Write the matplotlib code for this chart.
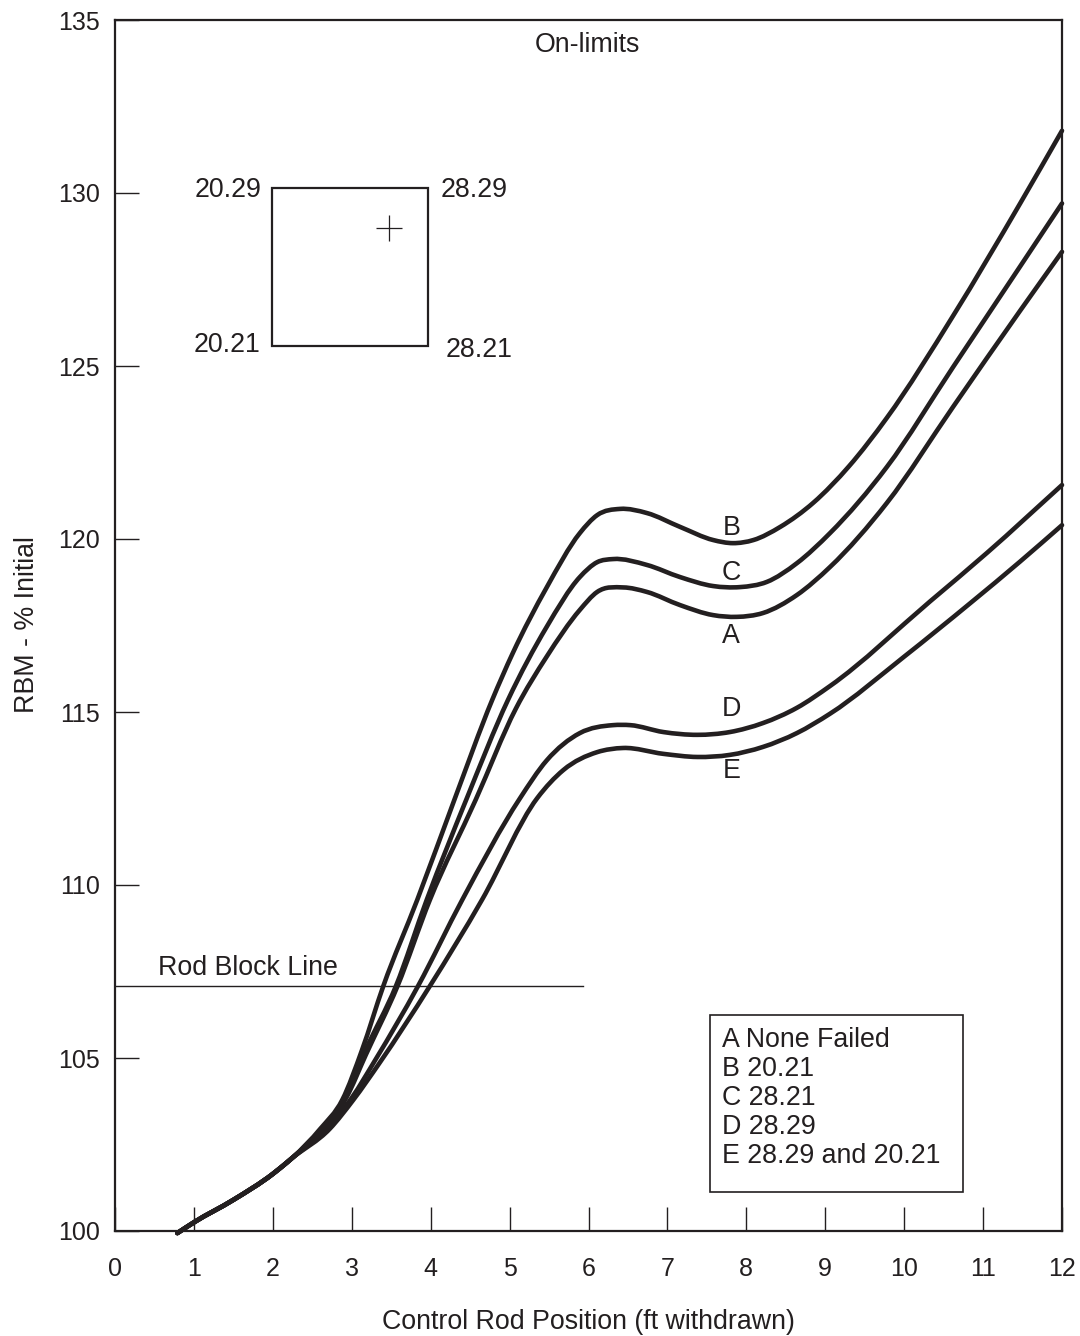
import matplotlib
matplotlib.use("Agg")
import matplotlib.pyplot as plt
from matplotlib.patches import Rectangle, PathPatch
from matplotlib.path import Path

plt.rcParams['font.family'] = ['Liberation Sans', 'DejaVu Sans']

# ---- data ----
base_x = [0.79, 1.0, 1.5, 2.0, 2.25]
base_y = [99.94, 100.25, 100.9, 101.65, 102.12]

B_x = [2.6, 2.88, 3.13, 3.40, 3.83, 4.30, 4.78, 5.04, 5.47, 5.89, 6.11, 6.40, 6.74, 7.16,
       7.58, 7.83, 8.09, 8.43, 8.85, 9.3, 9.78, 10.62, 11.47, 12.0]
B_y = [102.95, 103.79, 105.23, 107.08, 109.57, 112.46, 115.35, 116.7, 118.6, 120.17, 120.69,
       120.87, 120.75, 120.35, 119.97, 119.88, 119.97, 120.35, 121.05, 122.1, 123.5,
       126.45, 129.7, 131.8]

C_x = [2.63, 2.92, 3.17, 3.56, 3.95, 4.45, 4.98, 5.47, 5.89, 6.11, 6.31, 6.74, 7.16, 7.58,
       7.92, 8.26, 8.64, 9.06, 9.78, 10.62, 11.47, 12.0]
C_y = [102.95, 103.85, 105.2, 107.08, 109.57, 112.46, 115.35, 117.46, 118.9, 119.33, 119.42,
       119.25, 118.9, 118.64, 118.61, 118.76, 119.3, 120.17, 122.08, 124.97, 127.88, 129.7]

A_x = [2.64, 2.93, 3.18, 3.58, 3.99, 4.57, 5.08, 5.47, 5.89, 6.11, 6.44, 6.74, 7.16, 7.58,
       7.88, 8.21, 8.64, 9.06, 9.78, 10.62, 11.47, 12.0]
A_y = [102.95, 103.85, 105.1, 107.08, 109.57, 112.46, 115.1, 116.6, 117.95, 118.47, 118.6,
       118.47, 118.09, 117.8, 117.75, 117.86, 118.38, 119.19, 121.04, 123.82, 126.6, 128.3]

D_x = [2.68, 3.00, 3.30, 3.84, 4.40, 5.13, 5.47, 5.89, 6.31, 6.53, 6.95, 7.38, 7.79, 8.21,
       8.64, 9.06, 10.33, 11.05, 12.0]
D_y = [102.95, 103.85, 104.95, 107.08, 109.57, 112.5, 113.6, 114.39, 114.62, 114.62, 114.42,
       114.34, 114.42, 114.68, 115.12, 115.75, 118.2, 119.6, 121.56]

E_x = [2.72, 3.02, 3.35, 3.99, 4.65, 5.35, 5.68, 6.11, 6.44, 6.95, 7.38, 7.79, 8.21, 8.64,
       9.06, 10.0, 10.84, 11.47, 12.0]
E_y = [102.95, 103.79, 104.85, 107.08, 109.57, 112.51, 113.32, 113.84, 113.96, 113.79, 113.7,
       113.76, 113.99, 114.39, 114.95, 116.6, 118.15, 119.35, 120.4]

curve_names = ['B', 'C', 'A', 'D', 'E']
label_pos = {'B': (7.81, 120.32), 'C': (7.81, 119.02), 'A': (7.81, 117.2),
             'D': (7.81, 115.09), 'E': (7.81, 113.3)}

legend_lines = ['A None Failed', 'B 20.21', 'C 28.21', 'D 28.29', 'E 28.29 and 20.21']

rod_block_y = 107.08
rod_block_xmax = 5.93

x_ticks = list(range(0, 13))
y_ticks = [100, 105, 110, 115, 120, 125, 130, 135]

ink = '#231f20'
fs = 19.3
tfs = 18


def smooth_path(xs, ys):
    """Cubic Hermite curve (in x) through the read points, as Bezier segments."""
    n = len(xs)
    h = [xs[i + 1] - xs[i] for i in range(n - 1)]
    d = [(ys[i + 1] - ys[i]) / h[i] for i in range(n - 1)]
    m = [d[0]]
    for i in range(1, n - 1):
        m.append((h[i] * d[i - 1] + h[i - 1] * d[i]) / (h[i - 1] + h[i]))
    m.append(d[-1])
    verts = [(xs[0], ys[0])]
    codes = [Path.MOVETO]
    for i in range(n - 1):
        t = h[i] / 3.0
        verts += [(xs[i] + t, ys[i] + m[i] * t),
                  (xs[i + 1] - t, ys[i + 1] - m[i + 1] * t),
                  (xs[i + 1], ys[i + 1])]
        codes += [Path.CURVE4] * 3
    return Path(verts, codes)


fig = plt.figure(figsize=(10.8, 13.36), dpi=100)
ax = fig.add_axes([115/1080, 1 - 1231/1336, (1062-115)/1080, (1231-20)/1336])
ax.set_xlim(0, 12)
ax.set_ylim(100, 135)

series = {'A': (A_x, A_y), 'B': (B_x, B_y), 'C': (C_x, C_y), 'D': (D_x, D_y), 'E': (E_x, E_y)}
for name in curve_names:
    xs, ys = series[name]
    path = smooth_path(base_x + xs, base_y + ys)
    ax.add_patch(PathPatch(path, fill=False, ec=ink, lw=3.3, capstyle='round',
                           joinstyle='round', clip_on=False, zorder=3))
    lx, ly = label_pos[name]
    ax.text(lx, ly, name, fontsize=fs, color=ink, ha='center', va='center', zorder=4)

# rod block line
ax.plot([0, rod_block_xmax], [rod_block_y, rod_block_y], color=ink, lw=1.0, zorder=2)
ax.text(0.545, 107.6, 'Rod Block Line', fontsize=fs, color=ink, ha='left', va='center')

# on-limits inset
ax.text(5.99, 134.28, 'On-limits', fontsize=fs, color=ink, ha='center', va='center')
ax.add_patch(Rectangle((1.99, 125.58), 3.97 - 1.99, 130.14 - 125.58, fill=False,
                       ec=ink, lw=1.6))
ax.plot([3.47], [128.99], marker='+', markersize=19, mew=0.9, color=ink)
ax.text(1.86, 130.09, '20.29', fontsize=fs, color=ink, ha='right', va='center')
ax.text(4.12, 130.09, '28.29', fontsize=fs, color=ink, ha='left', va='center')
ax.text(1.84, 125.61, '20.21', fontsize=fs, color=ink, ha='right', va='center')
ax.text(4.19, 125.46, '28.21', fontsize=fs, color=ink, ha='left', va='center')

# legend box
ax.add_patch(Rectangle((7.54, 101.13), 10.75 - 7.54, 106.24 - 101.13, fill=False,
                       ec=ink, lw=1.2))
leg_y = [105.52, 104.68, 103.84, 103.0, 102.17]
for t, yy in zip(legend_lines, leg_y):
    ax.text(7.69, yy, t, fontsize=fs, color=ink, ha='left', va='center')

ax.set_xticks(x_ticks)
ax.set_yticks(y_ticks)
ax.tick_params(axis='x', direction='in', length=17, width=1.0, colors=ink,
               labelsize=tfs, pad=19)
ax.tick_params(axis='y', direction='in', length=17, width=1.0, colors=ink,
               labelsize=tfs, pad=11)
for s in ax.spines.values():
    s.set_linewidth(1.6)
    s.set_color(ink)

fig.text(588/1080, 1 - 1322/1336, 'Control Rod Position (ft withdrawn)', fontsize=fs,
         color=ink, ha='center', va='center')
fig.text(27/1080, 1 - 625/1336, 'RBM - % Initial', fontsize=fs, color=ink,
         ha='center', va='center', rotation=90)

fig.savefig('out.png', dpi=100)
